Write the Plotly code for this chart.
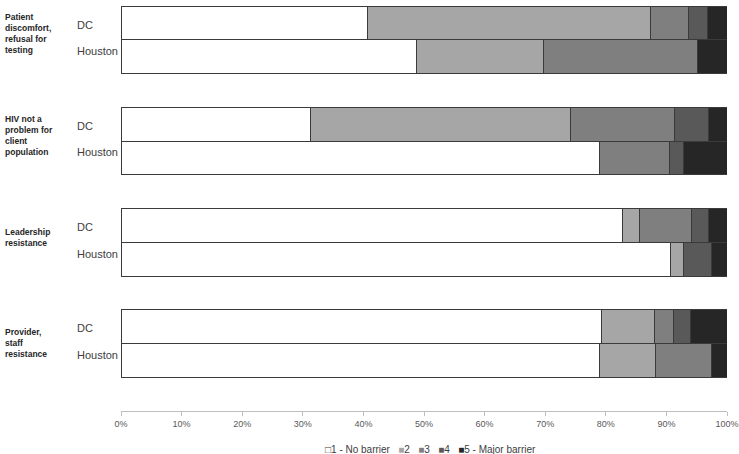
import plotly.graph_objects as go

groups = ["Patient<br>discomfort,<br>refusal for<br>testing",
          "HIV not a<br>problem for<br>client<br>population",
          "Leadership<br>resistance",
          "Provider,<br>staff<br>resistance"]
cities = ["DC", "Houston"]
levels = ["1 - No barrier", "2", "3", "4", "5 - Major barrier"]
colors = ["#ffffff", "#a6a6a6", "#7f7f7f", "#595959", "#262626"]

# values per level: order = [G1 DC, G1 Houston, G2 DC, G2 Houston, G3 DC, G3 Houston, G4 DC, G4 Houston]
lvl1 = [40.7, 48.7, 31.3, 79.0, 82.8, 90.6, 79.3, 79.0]
lvl2 = [46.7, 21.0, 42.8, 0.0, 2.8, 2.2, 8.7, 9.2]
lvl3 = [6.2, 25.5, 17.2, 11.5, 8.5, 0.0, 3.1, 9.3]
lvl4 = [3.1, 0.0, 5.6, 2.3, 2.9, 4.7, 2.8, 0.0]
lvl5 = [3.3, 4.8, 3.1, 7.2, 3.0, 2.5, 6.1, 2.5]
series = [lvl1, lvl2, lvl3, lvl4, lvl5]
tick_vals = [0, 10, 20, 30, 40, 50, 60, 70, 80, 90, 100]
tick_text = ["0%", "10%", "20%", "30%", "40%", "50%", "60%", "70%", "80%", "90%", "100%"]

pos = []
for g in range(len(groups)):
    for c in range(len(cities)):
        pos.append(3 * g + c)

FONT = "Liberation Sans, Arial"

fig = go.Figure()
for name, vals, col in zip(levels, series, colors):
    fig.add_trace(go.Bar(
        x=[v if v > 0 else None for v in vals], y=pos, orientation="h", name=name,
        width=1, marker=dict(color=col, line=dict(color="#3a3a3a", width=1)),
        showlegend=False,
    ))

annotations = []
grp_offsets = [-0.2, -0.17, -0.14, -0.02]
for g, lab in enumerate(groups):
    annotations.append(dict(text="<b>" + lab + "</b>", xref="paper", yref="y",
                            x=-0.194, y=3 * g + 0.5 + grp_offsets[g], xanchor="left", yanchor="middle",
                            align="left", showarrow=False,
                            font=dict(family=FONT, size=8.5, color="#262626")))
    annotations.append(dict(text=cities[0], xref="paper", yref="y", x=-0.076, y=3 * g + 0.05,
                            xanchor="left", yanchor="middle", showarrow=False,
                            font=dict(family=FONT, size=11, color="#404040")))
    annotations.append(dict(text=cities[1], xref="paper", yref="y", x=-0.076, y=3 * g + 0.84,
                            xanchor="left", yanchor="middle", showarrow=False,
                            font=dict(family=FONT, size=11, color="#404040")))

# compact legend built from the level names and colours
leg_parts = []
for i, (name, col) in enumerate(zip(levels, colors)):
    sym = "□" if col == "#ffffff" else "■"
    symcol = "#404040" if col == "#ffffff" else col
    leg_parts.append('<span style="color:%s">%s</span>%s' % (symcol, sym, name))
annotations.append(dict(text="   ".join(leg_parts), xref="paper", yref="paper",
                        x=0.51, y=-0.095, xanchor="center", yanchor="middle", showarrow=False,
                        font=dict(family=FONT, size=10, color="#404040")))

fig.update_layout(
    barmode="stack", width=739, height=454,
    margin=dict(l=121, r=12, t=6, b=43, autoexpand=False),
    plot_bgcolor="white", paper_bgcolor="white",
    annotations=annotations,
    showlegend=False,
    xaxis=dict(range=[0, 100], tickvals=tick_vals, ticktext=tick_text,
               showgrid=False, zeroline=False, showline=True, linecolor="#bfbfbf", linewidth=1,
               ticks="outside", ticklen=4, tickcolor="#bfbfbf", ticklabeloverflow="allow",
               tickfont=dict(family=FONT, size=9, color="#595959")),
    yaxis=dict(range=[11.5, -0.5], showticklabels=False, showgrid=False, zeroline=False,
               showline=False, ticks=""),
)

fig.write_html("out.html")
